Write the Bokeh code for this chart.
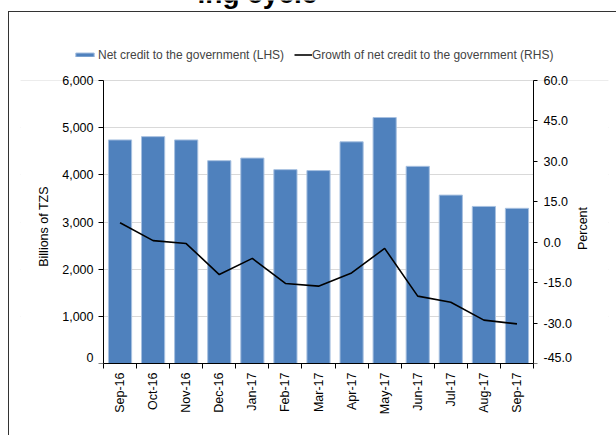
from bokeh.plotting import figure
from bokeh.models import (Range1d, LinearAxis, FixedTicker,
                          Legend, LegendItem, Label, BoxAnnotation, ColumnDataSource)
from bokeh.core.properties import value
from bokeh.embed import file_html
from bokeh.resources import INLINE
import math

# ---- data ----
months = ["Sep-16", "Oct-16", "Nov-16", "Dec-16", "Jan-17", "Feb-17", "Mar-17",
          "Apr-17", "May-17", "Jun-17", "Jul-17", "Aug-17", "Sep-17"]
net_credit = [4740, 4810, 4740, 4300, 4355, 4110, 4090, 4700, 5215, 4180, 3570, 3330, 3290]
growth = [7.2, 0.6, -0.5, -12.0, -6.0, -15.3, -16.3, -11.4, -2.3, -20.0, -22.3, -28.9, -30.3]
left_ticks = [0, 1000, 2000, 3000, 4000, 5000, 6000]
right_ticks = [-45, -30, -15, 0, 15, 30, 45, 60]
heading = "ing cycle"

FONT = "Liberation Sans"
FS = "12.5px"
LFS = "12px"

# layout (pixels)
W, H = 616, 435
FL = 20            # frame left edge
FR = 608           # frame right edge
AXL = 103          # left value axis position
AXR = 533          # right value axis position
TOP6000 = 80       # where the top tick sits
BOT = 363          # x axis position

n = len(months)
xs = [i + 0.5 for i in range(n)]
src = ColumnDataSource(dict(x=xs, credit=net_credit, growth=growth))

ppu_x = (AXR - AXL) / n
x_start = -(AXL - FL) / ppu_x
x_end = n + (FR - AXR) / ppu_x
y_top = left_ticks[-1] * BOT / (BOT - TOP6000)
r_span = right_ticks[-1] - right_ticks[0]
r_top = right_ticks[0] + r_span * BOT / (BOT - TOP6000)

frame_bg = ("linear-gradient(#333, #333) 8px 11px / 1px 600px no-repeat, "
            "linear-gradient(#333, #333) 8px 11px / 700px 1px no-repeat, white")

p = figure(width=W, height=H, output_backend="svg", toolbar_location=None,
           title_location=None,
           x_range=Range1d(x_start, x_end), y_range=Range1d(0, y_top),
           min_border_left=FL, min_border_right=W - FR, min_border_top=0,
           min_border_bottom=H - BOT, styles={"background": frame_bg})
p.outline_line_color = None
p.background_fill_alpha = 0
p.border_fill_alpha = 0
p.extra_y_ranges = {"pct": Range1d(right_ticks[0], r_top)}

# mask grid lines outside the two value axes
p.add_layout(BoxAnnotation(right=0, bottom=0, top=left_ticks[-1], fill_color="white",
                           fill_alpha=1, line_alpha=0, level="underlay"))
p.add_layout(BoxAnnotation(left=n, bottom=0, top=left_ticks[-1], fill_color="white",
                           fill_alpha=1, line_alpha=0, level="underlay"))

bars = p.vbar(x="x", top="credit", width=0.7, source=src,
              fill_color="#4F81BD", line_color="#A7C0E0", line_width=1)
line = p.line(x="x", y="growth", source=src, y_range_name="pct",
              line_color="black", line_width=1.6)

# x axis: labels at centres, ticks at boundaries
xa = p.xaxis[0]
xa.ticker = FixedTicker(ticks=xs, minor_ticks=list(range(n + 1)))
xa.major_label_overrides = {x: m for x, m in zip(xs, months)}
xa.bounds = (0, n)
xa.major_tick_out = 0
xa.major_tick_in = 0
xa.minor_tick_out = 5
xa.minor_tick_in = 0
xa.minor_tick_line_color = "black"
xa.major_label_orientation = math.pi / 2
xa.major_label_standoff = 4
xa.axis_line_color = "black"
xa.major_label_text_color = "black"
xa.major_label_text_font = FONT
xa.major_label_text_font_size = FS

# left value axis: line and tick marks at x = 0
ya = p.yaxis[0]
ya.ticker = FixedTicker(ticks=[], minor_ticks=left_ticks)
ya.fixed_location = 0
ya.bounds = (left_ticks[0], left_ticks[-1])
ya.major_tick_out = 0
ya.major_tick_in = 0
ya.minor_tick_out = 5
ya.minor_tick_in = 0
ya.minor_tick_line_color = "black"
ya.axis_line_color = "black"

# right value axis: line and tick marks at x = n
ra = LinearAxis(y_range_name="pct", ticker=FixedTicker(ticks=[], minor_ticks=right_ticks))
ra.fixed_location = n
ra.bounds = (right_ticks[0], right_ticks[-1])
ra.major_tick_out = 0
ra.major_tick_in = 0
ra.minor_tick_out = 4
ra.minor_tick_in = 0
ra.minor_tick_line_color = "black"
ra.axis_line_color = "black"
p.add_layout(ra, "right")

# value-axis tick labels, placed next to the axis lines
ltick = ColumnDataSource(dict(x=[0] * len(left_ticks), y=left_ticks,
                              t=[f"{v:,}" for v in left_ticks],
                              dy=[-6 if v == left_ticks[0] else 0 for v in left_ticks]))
p.text(x="x", y="y", text="t", source=ltick, x_offset=-10, y_offset="dy",
       text_align="right", text_baseline="middle", text_font=value(FONT),
       text_font_size=value(FS), text_color="black")
rtick = ColumnDataSource(dict(x=[n] * len(right_ticks), y=right_ticks,
                              t=[f"{v:.1f}" for v in right_ticks],
                              dy=[-6 if v == right_ticks[0] else 0 for v in right_ticks]))
p.text(x="x", y="y", text="t", source=rtick, y_range_name="pct", x_offset=10,
       y_offset="dy", text_align="left", text_baseline="middle",
       text_font=value(FONT), text_font_size=value(FS), text_color="black")

p.add_layout(Label(x=43 - FL, y=BOT - 226, x_units="screen", y_units="screen",
                   text="Billions of TZS", angle=math.pi / 2, text_align="center",
                   text_baseline="middle", text_font=FONT, text_font_size=FS,
                   text_color="black"))
p.add_layout(Label(x=582 - FL, y=BOT - 228, x_units="screen", y_units="screen",
                   text="Percent", angle=math.pi / 2, text_align="center",
                   text_baseline="middle", text_font=FONT, text_font_size=FS,
                   text_color="black"))

p.xgrid.visible = False
p.ygrid.ticker = FixedTicker(ticks=left_ticks)
p.ygrid.grid_line_color = "#D9D9D9"
p.ygrid.grid_line_width = 1

# legends (inside the enlarged frame, above the value area)
leg_y = BOT - 54.5 - 7
lg1 = Legend(items=[LegendItem(label="Net credit to the government (LHS)", renderers=[bars])],
             location=(73 - FL, leg_y), glyph_width=23, glyph_height=5, label_height=5,
             label_standoff=2, padding=0, margin=0, spacing=0,
             border_line_color=None, background_fill_alpha=0,
             label_text_font=FONT, label_text_font_size=LFS)
lg2 = Legend(items=[LegendItem(label="Growth of net credit to the government (RHS)", renderers=[line])],
             location=(294 - FL, leg_y), glyph_width=18, glyph_height=5, label_height=5,
             label_standoff=0, padding=0, margin=0, spacing=0,
             border_line_color=None, background_fill_alpha=0,
             label_text_font=FONT, label_text_font_size=LFS)
p.add_layout(lg1)
p.add_layout(lg2)

# heading, cut off by the top of the page
title = Label(x=197 - FL, y=BOT + 7, x_units="screen", y_units="screen",
              text=heading, text_font=FONT, text_font_style="bold",
              text_font_size="28px", text_baseline="alphabetic", text_color="black")
p.add_layout(title)

open("out.html", "w").write(file_html(p, INLINE))
